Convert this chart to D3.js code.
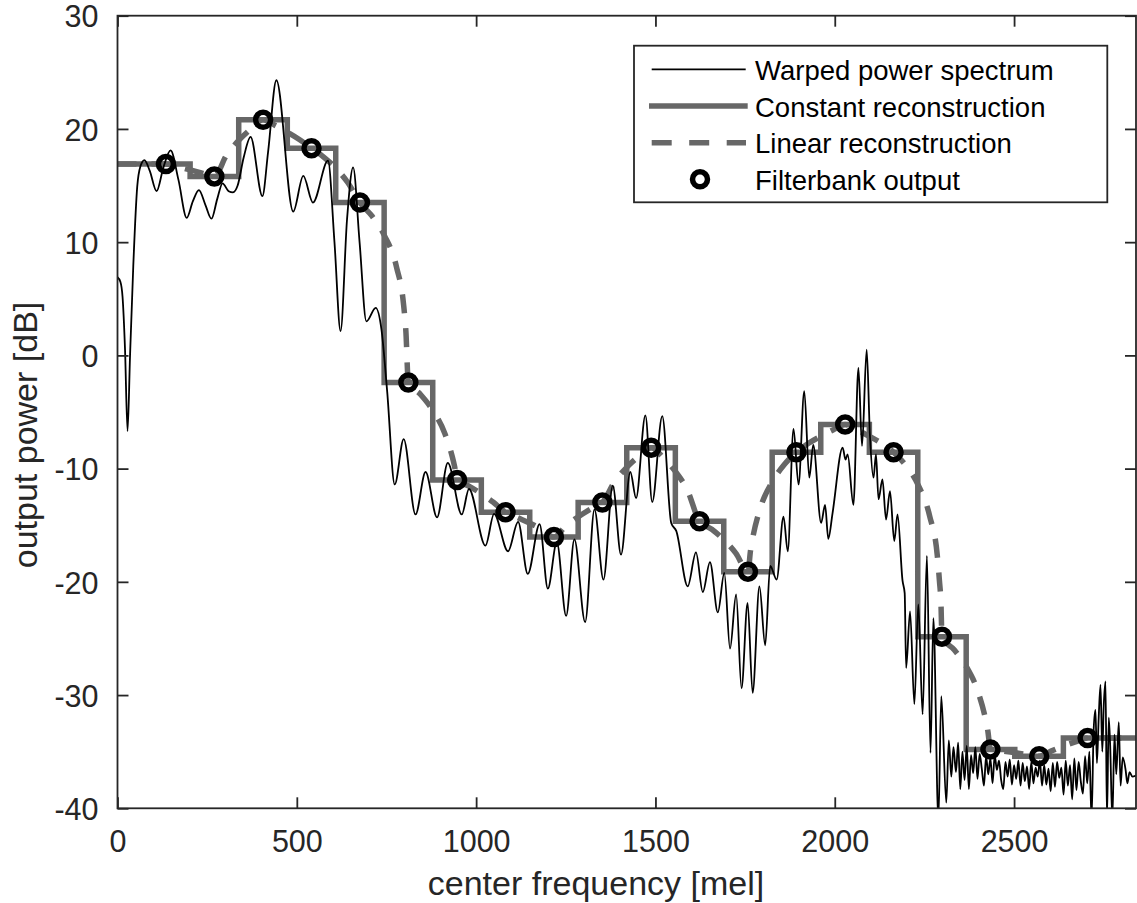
<!DOCTYPE html>
<html>
<head>
<meta charset="utf-8">
<script src="https://cdnjs.cloudflare.com/ajax/libs/d3/7.8.5/d3.min.js"></script>
<style>
body { margin: 0; background: #fff; }
svg { display: block; font-family: "Liberation Sans", Arial, Helvetica, sans-serif; }
</style>
</head>
<body>
<svg id="chart" width="1137" height="903"></svg>
<script>
// axes
let xDomain = [0, 2840];
let yDomain = [-40, 30];
let xTicks = [0, 500, 1000, 1500, 2000, 2500];
let yTicks = [-40, -30, -20, -10, 0, 10, 20, 30];
let xLabel = 'center frequency [mel]';
let yLabel = 'output power [dB]';
let legendLabels = ['Warped power spectrum', 'Constant reconstruction', 'Linear reconstruction', 'Filterbank output'];

// filterbank output (circles)
let centerMel = [135, 270, 406, 541, 676, 811, 947, 1082, 1217, 1352, 1488, 1623, 1758, 1893, 2029, 2164, 2299, 2434, 2570, 2705];
let filterbankDb = [16.9, 15.8, 20.8, 18.3, 13.5, -2.4, -11.0, -13.85, -16.05, -13.0, -8.15, -14.65, -19.1, -8.55, -6.1, -8.55, -24.85, -34.8, -35.4, -33.8];

// linear reconstruction [mel, dB]
let linearRecon = [
  [0,16.9],[135,16.9],[169,16.65],[203,16.38],[236,16.1],[270,15.8],[304,17.68],[338,18.98],[372,19.99],[406,20.8],
  [440,20.3],[473,19.73],[507,19.07],[541,18.3],[575,17.51],[609,16.53],[642,15.27],[676,13.5],[710,12.29],[744,10.6],
  [778,7.8],[798,4.4],[804,2.2],[811,-2.4],[845,-3.45],[879,-4.85],[913,-6.92],[933,-8.89],[940,-9.82],[947,-11.0],
  [981,-11.56],[1014,-12.21],[1048,-12.97],[1082,-13.85],[1116,-14.34],[1150,-14.82],[1183,-15.37],[1217,-16.05],
  [1251,-15.03],[1285,-14.25],[1319,-13.58],[1352,-13.0],[1386,-11.17],[1420,-9.89],[1454,-8.9],[1488,-8.15],
  [1522,-9.04],[1555,-10.23],[1589,-11.89],[1623,-14.65],[1657,-15.36],[1691,-16.29],[1724,-17.47],[1758,-19.1],
  [1765,-17.27],[1772,-16.0],[1792,-13.51],[1826,-11.15],[1860,-9.62],[1893,-8.55],[1927,-7.76],[1961,-7.14],
  [1995,-6.59],[2029,-6.1],[2063,-6.59],[2096,-7.14],[2130,-7.76],[2164,-8.55],[2198,-9.71],[2232,-11.41],
  [2265,-14.23],[2286,-17.7],[2292,-19.95],[2296,-21.75],[2299,-24.85],[2333,-26.0],[2367,-27.49],[2400,-29.76],
  [2420,-32.06],[2427,-33.2],[2434,-34.8],[2468,-34.94],[2502,-35.09],[2536,-35.24],[2570,-35.4],[2603,-34.95],
  [2637,-34.52],[2671,-34.14],[2705,-33.8],[2840,-33.8]
];

// warped power spectrum, traced peak by trough [mel, dB]
let warpedSpectrum = [
  [0,6.9],[8,6.5],[14,5.2],[21,0.5],[28,-6.7],[35,0],[44,7.9],[55,14.9],[64,16.7],[75,17.25],
  [90,16.3],[109,14.5],[128,16.6],[148,18.1],[170,15.5],[193,12.15],[210,13.6],[227,14.6],[245,13.3],[262,12.07],
  [278,13.8],[293,15.2],[310,14.5],[322,14.4],[335,15.0],[352,17.5],[371,19.3],[404,14.07],[420,18],[443,24.3],
  [490,12.7],[518,15.85],[545,13.5],[587,17.2],[605,10],[622,2.15],[640,12],[657,16.6],[675,10],[694,3.0],
  [720,4.2],[736,2.3],[752,-3.2],[773,-11.4],[798,-7.4],[831,-14.05],[859,-10.3],[891,-14.3],[921,-9.5],[960,-14.05],
  [980,-11.8],[1026,-16.8],[1050,-14.0],[1089,-17.3],[1117,-14.7],[1144,-19.3],[1177,-14.9],[1200,-20.6],[1225,-16.5],[1251,-23.0],
  [1274,-16.25],[1304,-23.55],[1330,-13.6],[1355,-19.8],[1381,-11.5],[1404,-17.6],[1430,-10.3],[1446,-12.6],[1472,-5.3],[1491,-12.95],
  [1519,-5.36],[1544,-14.8],[1558,-15.5],[1590,-20.4],[1613,-17.4],[1632,-20.9],[1652,-18.25],[1674,-22.7],[1692,-19.2],[1708,-25.9],
  [1725,-21.1],[1740,-29.4],[1757,-21.85],[1771,-29.8],[1790,-20.4],[1806,-25.6],[1820,-18.6],[1838,-19.8],[1857,-14.25],[1869,-17.3],
  [1885,-6.5],[1899,-11.4],[1915,-3.15],[1929,-10.8],[1940,-7.9],[1962,-14.8],[1973,-13.2],[1982,-16.2],[1994,-13.9],[2022,-8.15],
  [2030,-9.2],[2036,-8.75],[2052,-13.2],[2066,-1.1],[2076,-8.0],[2089,0.5],[2098,-7],[2108,-10.8],[2115,-8.75],[2122,-12.7],
  [2133,-10.95],[2143,-14.5],[2154,-12.0],[2166,-16.4],[2175,-14.05],[2189,-19.9],[2195,-21],[2199,-27.6],[2210,-22.6],[2222,-30.8],
  [2233,-22],[2245,-31.7],[2257,-17.7],[2267,-35.1],[2275,-23.2],[2289,-41],[2297,-30.1],[2311,-39.5],[2318,-34.0],[2325,-37.2],
  [2331,-34.6],[2338,-36.8],[2344,-34.2],[2350,-38.3],[2356,-35.0],[2362,-37.5],[2368,-34.5],[2374,-38.3],[2380,-35.3],[2386,-36.9],
  [2392,-34.6],[2398,-37.4],[2404,-35.2],[2410,-36.5],[2416,-38.0],[2422,-35.4],[2428,-37.0],[2434,-35.6],[2440,-37.8],[2446,-35.3],
  [2452,-36.6],[2458,-35.8],[2464,-37.5],[2470,-38.3],[2476,-35.9],[2482,-37.2],[2488,-35.7],[2494,-37.9],[2500,-36.2],[2506,-37.4],
  [2512,-35.8],[2518,-38.0],[2524,-36.0],[2530,-37.6],[2536,-36.3],[2542,-38.3],[2548,-35.9],[2554,-37.8],[2560,-36.4],[2566,-37.2],
  [2572,-35.8],[2578,-38.0],[2584,-36.2],[2590,-37.9],[2596,-36.5],[2602,-38.5],[2608,-36.0],[2614,-38.1],[2620,-35.9],[2626,-37.3],
  [2632,-36.4],[2638,-38.8],[2644,-35.8],[2650,-38.0],[2656,-36.2],[2662,-39.2],[2668,-35.6],[2674,-38.4],[2680,-35.9],[2686,-37.6],
  [2692,-38.7],[2698,-35.4],[2704,-37.8],[2710,-35.0],[2716,-41],[2722,-33],[2727,-31.3],[2731,-36],[2736,-32],[2741,-29.1],
  [2746,-35],[2750,-31],[2755,-28.8],[2759,-41],[2764,-32],[2768,-34.5],[2774,-41],[2780,-33.5],[2785,-37],[2792,-32.4],
  [2797,-38],[2803,-35.5],[2811,-36.6],[2816,-37.8],[2822,-36.8],[2830,-37.2],[2840,-37.1]
];

let plot = {left: 117.5, right: 1136, top: 15.7, bottom: 808.3};
let ink = '#262626';
let gray = '#676767';
let tickFont = 30.5, labelFont = 34, legendFont = 27.5;

let svg = d3.select('#chart');
let xScale = d3.scaleLinear().domain(xDomain).range([plot.left, plot.right]);
let yScale = d3.scaleLinear().domain(yDomain).range([plot.bottom, plot.top]);

svg.append('defs').append('clipPath').attr('id', 'clip')
    .append('rect')
    .attr('x', plot.left).attr('y', plot.top)
    .attr('width', plot.right - plot.left).attr('height', plot.bottom - plot.top);

let smooth = d3.line().x(d => xScale(d[0])).y(d => yScale(d[1])).curve(d3.curveMonotoneX);
let stepped = d3.line().x(d => xScale(d[0])).y(d => yScale(d[1])).curve(d3.curveStep);

// constant reconstruction holds each output until halfway to the next center
let constPts = [[xDomain[0], filterbankDb[0]]]
    .concat(centerMel.map((c, i) => [c, filterbankDb[i]]))
    .concat([[xDomain[1], filterbankDb[filterbankDb.length - 1]]]);

let lines = svg.append('g').attr('clip-path', 'url(#clip)');
lines.append('path')
    .attr('d', stepped(constPts))
    .attr('fill', 'none').attr('stroke', gray).attr('stroke-width', 5.5);
lines.append('path')
    .attr('d', smooth(linearRecon))
    .attr('fill', 'none').attr('stroke', gray).attr('stroke-width', 5.5)
    .attr('stroke-dasharray', '19,15');
lines.append('path')
    .attr('d', smooth(warpedSpectrum))
    .attr('fill', 'none').attr('stroke', '#000').attr('stroke-width', 1.8)
    .attr('stroke-linejoin', 'round');

svg.append('g').selectAll('circle')
    .data(centerMel)
    .join('circle')
    .attr('cx', d => xScale(d))
    .attr('cy', (d, i) => yScale(filterbankDb[i]))
    .attr('r', 7.5)
    .attr('fill', 'none').attr('stroke', '#000').attr('stroke-width', 5.5);

// axes, ticks pointing inward on all four sides
function styleAxis(g) {
    g.attr('font-size', tickFont).attr('font-family', null);
    g.select('.domain').remove();
    g.selectAll('.tick line').attr('stroke', ink).attr('stroke-width', 1.8);
    g.selectAll('.tick text').attr('fill', ink);
}
let label = d => String(d);
svg.append('g').attr('transform', `translate(0,${plot.bottom})`)
    .call(d3.axisBottom(xScale).tickValues(xTicks).tickSizeInner(-11).tickSizeOuter(0).tickPadding(22).tickFormat(label))
    .call(styleAxis);
svg.append('g').attr('transform', `translate(${plot.left},0)`)
    .call(d3.axisLeft(yScale).tickValues(yTicks).tickSizeInner(-11).tickSizeOuter(0).tickPadding(19).tickFormat(label))
    .call(styleAxis)
    .selectAll('.tick text').attr('dy', '0.37em');
svg.append('g').attr('transform', `translate(0,${plot.top})`)
    .call(d3.axisTop(xScale).tickValues(xTicks).tickSizeInner(-11).tickSizeOuter(0).tickFormat(''))
    .call(styleAxis);
svg.append('g').attr('transform', `translate(${plot.right},0)`)
    .call(d3.axisRight(yScale).tickValues(yTicks).tickSizeInner(-11).tickSizeOuter(0).tickFormat(''))
    .call(styleAxis);

svg.append('rect')
    .attr('x', plot.left).attr('y', plot.top)
    .attr('width', plot.right - plot.left).attr('height', plot.bottom - plot.top)
    .attr('fill', 'none').attr('stroke', ink).attr('stroke-width', 1.8);

svg.append('text')
    .attr('x', 596).attr('y', 895)
    .attr('text-anchor', 'middle')
    .attr('font-size', labelFont).attr('fill', ink)
    .text(xLabel);
svg.append('text')
    .attr('transform', 'translate(36.5,435) rotate(-90)')
    .attr('text-anchor', 'middle')
    .attr('font-size', labelFont).attr('fill', ink)
    .text(yLabel);

// legend
let legend = svg.append('g');
legend.append('rect')
    .attr('x', 634).attr('y', 45.7).attr('width', 473.3).attr('height', 156.6)
    .attr('fill', '#fff').attr('stroke', ink).attr('stroke-width', 1.8);
let rowY = i => 69.3 + i * 36.67;
legendLabels.forEach((name, i) => {
    legend.append('text')
        .attr('x', 755).attr('y', rowY(i) + 10.7)
        .attr('font-size', legendFont).attr('fill', '#000')
        .text(name);
});
legend.append('line')
    .attr('x1', 651.7).attr('x2', 745.7).attr('y1', rowY(0)).attr('y2', rowY(0))
    .attr('stroke', '#000').attr('stroke-width', 1.8);
legend.append('line')
    .attr('x1', 649).attr('x2', 747.7).attr('y1', rowY(1)).attr('y2', rowY(1))
    .attr('stroke', gray).attr('stroke-width', 5.5);
legend.append('line')
    .attr('x1', 651.7).attr('x2', 746).attr('y1', rowY(2)).attr('y2', rowY(2))
    .attr('stroke', gray).attr('stroke-width', 5.5).attr('stroke-dasharray', '20,17.5');
legend.append('circle')
    .attr('cx', 700).attr('cy', rowY(3)).attr('r', 7.5)
    .attr('fill', 'none').attr('stroke', '#000').attr('stroke-width', 5.5);
</script>
</body>
</html>
